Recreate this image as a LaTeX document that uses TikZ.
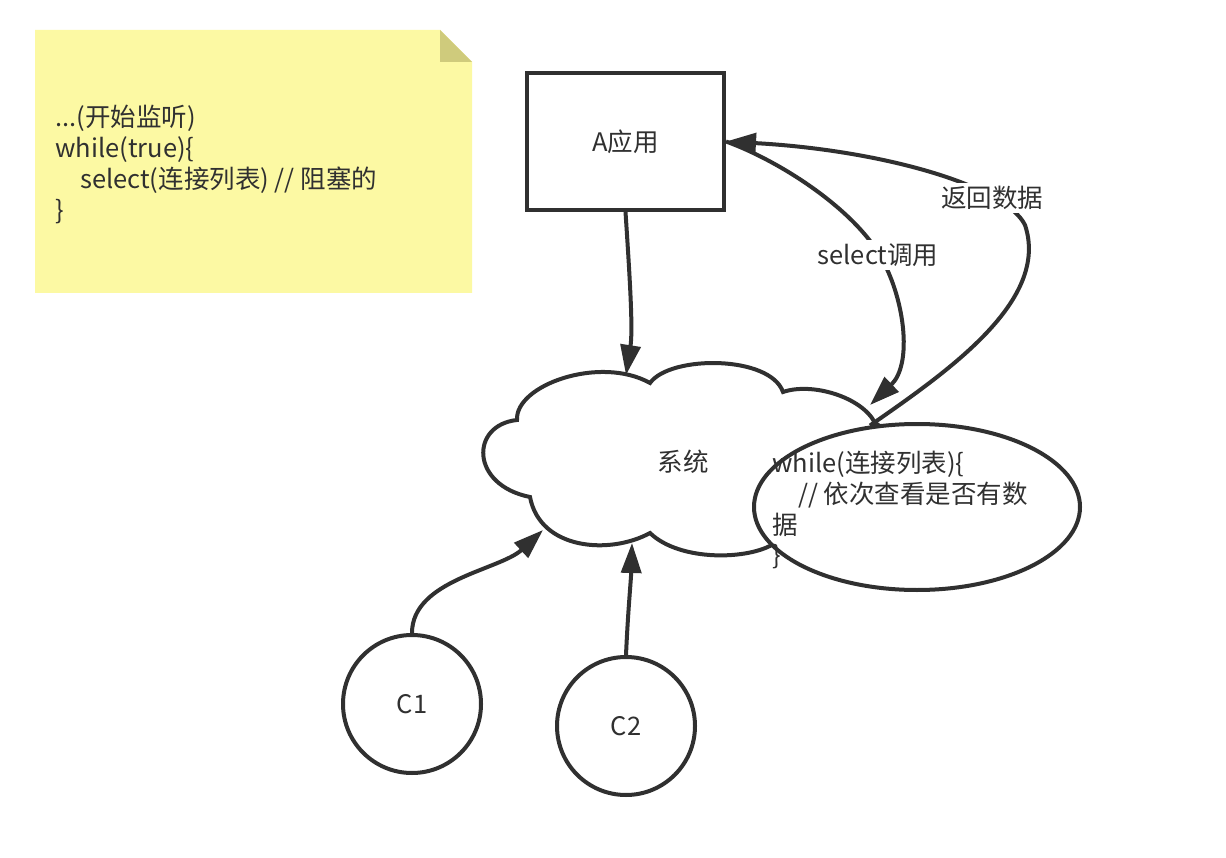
\documentclass[tikz,border=0pt]{standalone}
\usepackage{fontspec}
\setmainfont{Noto Sans CJK SC}
\usetikzlibrary{arrows.meta,shapes.geometric}
\definecolor{ink}{HTML}{303030}
\definecolor{notey}{HTML}{FCF9A3}
\definecolor{foldc}{HTML}{CFCB7C}
\begin{document}
\begin{tikzpicture}[x=1pt,y=-1pt,
  txt/.style={font=\fontsize{25.5}{31}\selectfont, text=ink, inner sep=0pt},
  shp/.style={draw=ink, line width=4pt, fill=white},
  conn/.style={draw=ink, line width=4pt, -{Triangle[length=30pt,width=20pt]}},
  lab/.style={txt, fill=white, inner sep=3pt}]
\useasboundingbox (0,0) rectangle (1226,858);
\fill[white] (0,0) rectangle (1226,858);
% note
\fill[notey] (35,30) -- (440,30) -- (472,62) -- (472,293) -- (35,293) -- cycle;
\fill[foldc] (440,30) -- (440,62) -- (472,62) -- cycle;
\node[txt, anchor=base west] (n1) at (55,126.5) {...(开始监听)};
\node[txt, anchor=base west] (n2) at (55,157.5) {while(true)\{};
\node[txt, anchor=base west] (n3) at (80,188.5) {select(连接列表) // 阻塞的};
\node[txt, anchor=base west] (n4) at (55,219.5) {\}};
% box A
\node[shp, txt, minimum width=197pt, minimum height=137pt] (A) at (625.5,141.5) {A应用};
% cloud
\path[shp] (517,420) .. controls (515,385) and (600,355) .. (650,383)
  .. controls (670,355) and (770,355) .. (783,392)
  .. controls (812,382) and (862,397) .. (875,423)
  .. controls (925,450) and (880,545) .. (775,543)
  .. controls (750,560) and (680,562) .. (650,533)
  .. controls (610,555) and (540,550) .. (530,497)
  .. controls (470,485) and (470,425) .. (517,420) -- cycle;
\node[txt] (sys) at (683,462) {系统};
\coordinate (cloudTop) at (626,375);
\coordinate (cloudBL) at (543,530);
\coordinate (cloudB) at (632,543);
\coordinate (cloudTR) at (870,405);
% ellipse
\node[shp, ellipse, minimum width=326pt, minimum height=166pt, inner sep=0pt] (ell) at (917,507) {};
\node[txt, anchor=base west] (e1) at (772,472.5) {while(连接列表)\{};
\node[txt, anchor=base west] (e2) at (798,503.5) {// 依次查看是否有数};
\node[txt, anchor=base west] (e3) at (772,534.5) {据};
\node[txt, anchor=base west] (e4) at (772,564) {\}};
% circles
\node[shp, txt, circle, minimum size=138pt] (c1) at (412,704) {C1};
\node[shp, txt, circle, minimum size=138pt] (c2) at (626,726) {C2};
% connectors
\draw[conn] (A.south) .. controls (630,280) and (633,330) .. (cloudTop);
\draw[conn] (c1.north) .. controls (412,580) and (500,570) .. (cloudBL);
\draw[conn] (c2.north) .. controls (628,610) and (631,580) .. (cloudB);
\draw[conn] (A.east) .. controls (785,163) and (862,215) .. (885,265)
  .. controls (905,305) and (912,365) .. (cloudTR);
\draw[conn] (ell.120) .. controls (950,370) and (1050,300) .. (1025,225)
  .. controls (1005,185) and (880,150) .. (A.east);
\node[lab] (lsel) at (878,255) {select调用};
\node[lab] (lret) at (992,198) {返回数据};
\end{tikzpicture}
\end{document}
